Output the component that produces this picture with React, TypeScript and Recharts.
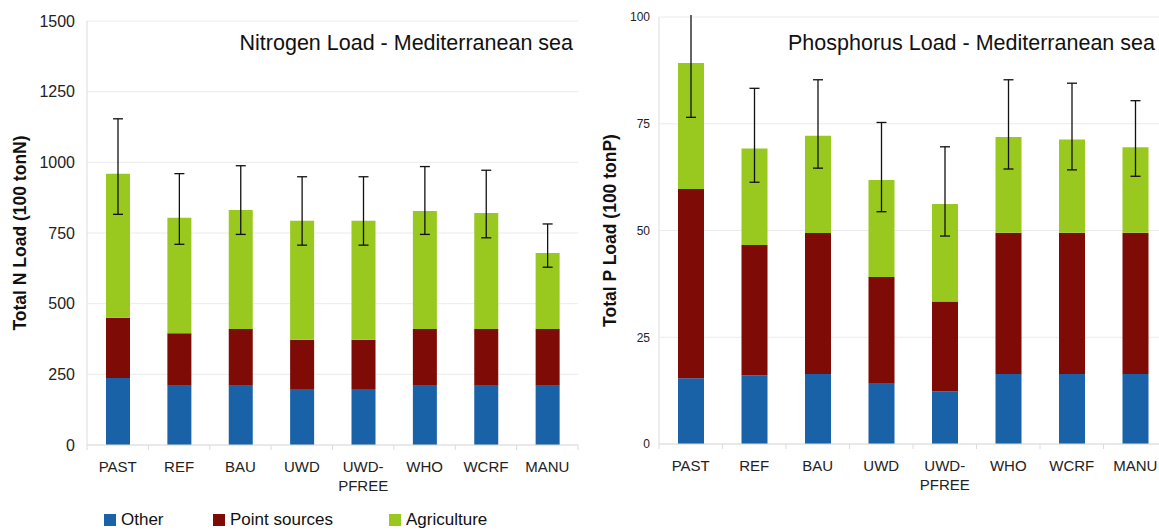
import { Bar, BarChart, CartesianGrid, ErrorBar, Legend, XAxis, YAxis } from "recharts";

const CATEGORIES = ["PAST", "REF", "BAU", "UWD", "UWD-PFREE", "WHO", "WCRF", "MANU"];

// nitrogen, 100 tonN
const N_OTHER = [237, 210, 210, 198, 198, 210, 210, 210];
const N_POINT = [213, 185, 200, 174, 174, 200, 200, 200];
const N_AGRI = [510, 409, 421, 421, 421, 418, 411, 269];
const N_ERR_LOW = [816, 710, 745, 707, 707, 745, 733, 629];
const N_ERR_HIGH = [1154, 960, 988, 949, 949, 985, 972, 782];
const N_TICKS = [0, 250, 500, 750, 1000, 1250, 1500];

// phosphorus, 100 tonP
const P_OTHER = [15.4, 16.1, 16.4, 14.1, 12.3, 16.4, 16.4, 16.4];
const P_POINT = [44.3, 30.5, 33.0, 25.0, 21.1, 33.1, 33.1, 33.1];
const P_AGRI = [29.5, 22.6, 22.8, 22.7, 22.8, 22.4, 21.8, 20.0];
const P_ERR_LOW = [76.5, 61.3, 64.6, 54.4, 48.7, 64.4, 64.2, 62.7];
const P_ERR_HIGH = [103, 83.3, 85.3, 75.3, 69.6, 85.3, 84.5, 80.4];
const P_TICKS = [0, 25, 50, 75, 100];

const SERIES = [
  { key: "other", name: "Other", color: "#1962a8" },
  { key: "point", name: "Point sources", color: "#7e0b06" },
  { key: "agri", name: "Agriculture", color: "#99c81f" },
];

const GRID = "#ebebeb";
const AXIS = "#dcdcdc";
const FONT = "'Liberation Sans', Arial, sans-serif";

function buildRows(other: number[], point: number[], agri: number[], lo: number[], hi: number[]) {
  return CATEGORIES.map((name, i) => {
    const total = other[i] + point[i] + agri[i];
    return { name, other: other[i], point: point[i], agri: agri[i], err: [total - lo[i], hi[i] - total] };
  });
}

const nRows = buildRows(N_OTHER, N_POINT, N_AGRI, N_ERR_LOW, N_ERR_HIGH);
const pRows = buildRows(P_OTHER, P_POINT, P_AGRI, P_ERR_LOW, P_ERR_HIGH);

function CategoryTick(props: any) {
  const { x, y, payload, index, visibleTicksCount, baseline } = props;
  const half = payload.offset || 0;
  const lines = String(payload.value).split(/(?<=-)/);
  return (
    <g>
      <line x1={x - half} x2={x - half} y1={y} y2={y + 5} stroke={AXIS} />
      {index === visibleTicksCount - 1 && <line x1={x + half} x2={x + half} y1={y} y2={y + 5} stroke={AXIS} />}
      {lines.map((l, i) => (
        <text key={i} x={x} y={y + baseline + i * 19} textAnchor="middle" fontSize={15} fill="#222" fontFamily={FONT}>
          {l}
        </text>
      ))}
    </g>
  );
}

function YLabel({ viewBox, value }: any) {
  const cx = 20;
  const cy = viewBox.y + viewBox.height / 2;
  return (
    <text
      x={cx}
      y={cy}
      transform={`rotate(-90 ${cx} ${cy})`}
      textAnchor="middle"
      dominantBaseline="central"
      fontSize={17.5}
      fontWeight="bold"
      fill="#111"
      fontFamily={FONT}
    >
      {value}
    </text>
  );
}

// fixed order: the legend payload comes back reversed for stacks
function LegendBox() {
  const widths = [109, 176, 120];
  return (
    <div style={{ display: "flex", height: 22, alignItems: "center", paddingLeft: 104, fontFamily: FONT, fontSize: 17, color: "#111" }}>
      {SERIES.map((s, i) => (
        <div key={s.key} style={{ display: "flex", alignItems: "center", width: widths[i] }}>
          <span style={{ width: 12, height: 12, background: s.color, marginRight: 5, display: "inline-block" }} />
          <span>{s.name}</span>
        </div>
      ))}
    </div>
  );
}

function Panel(props: {
  rows: any[];
  ticks: number[];
  title: string;
  titleX: number;
  titleAnchor: "start" | "end";
  yLabel: string;
  yWidth: number;
  yFont: number;
  yMargin: number;
  top: number;
  right: number;
  barSize: number;
  baseline: number;
  legend: boolean;
  xHeight: number;
}) {
  const max = props.ticks[props.ticks.length - 1];
  return (
    <BarChart
      width={590}
      height={531}
      data={props.rows}
      margin={{ top: props.top, right: props.right, left: 0, bottom: 0 }}
      barSize={props.barSize}
    >
      <CartesianGrid stroke={GRID} vertical={false} />
      <XAxis
        dataKey="name"
        height={props.xHeight}
        tickLine={false}
        tickSize={0}
        tickMargin={0}
        axisLine={{ stroke: AXIS }}
        interval={0}
        tick={<CategoryTick baseline={props.baseline} />}
      />
      <YAxis
        width={props.yWidth}
        domain={[0, max]}
        ticks={props.ticks}
        allowDataOverflow
        tickLine={false}
        tickSize={0}
        tickMargin={props.yMargin}
        axisLine={{ stroke: AXIS }}
        tick={{ fontSize: props.yFont, fill: "#222", fontFamily: FONT }}
        label={{ value: props.yLabel, content: <YLabel value={props.yLabel} /> }}
      />
      {props.legend && <Legend verticalAlign="bottom" content={<LegendBox />} wrapperStyle={{ left: 0, width: 590 }} />}
      {SERIES.map((s) => (
        <Bar key={s.key} dataKey={s.key} name={s.name} stackId="a" fill={s.color} isAnimationActive={false}>
          {s.key === "agri" && (
            <ErrorBar dataKey="err" width={5} stroke="#111" strokeWidth={1.3} direction="y" isAnimationActive={false} />
          )}
        </Bar>
      ))}
      <text x={props.titleX} y={50} textAnchor={props.titleAnchor} fontSize={21.5} fill="#111" fontFamily={FONT}>
        {props.title}
      </text>
    </BarChart>
  );
}

export default function App() {
  return (
    <div style={{ position: "fixed", left: 0, top: 0, width: 1159, height: 531, overflow: "hidden", background: "#fff" }}>
      <div style={{ position: "absolute", left: 0, top: 0 }}>
        <Panel
          rows={nRows}
          ticks={N_TICKS}
          title="Nitrogen Load - Mediterranean sea"
          titleX={573}
          titleAnchor="end"
          yLabel="Total N Load (100 tonN)"
          yWidth={87}
          yFont={16}
          yMargin={12}
          top={21}
          right={12}
          barSize={24}
          baseline={27}
          legend
          xHeight={64}
        />
      </div>
      <div style={{ position: "absolute", left: 590, top: 0, width: 569, height: 531, overflow: "hidden" }}>
        <Panel
          rows={pRows}
          ticks={P_TICKS}
          title="Phosphorus Load - Mediterranean sea"
          titleX={198}
          titleAnchor="start"
          yLabel="Total P Load (100 tonP)"
          yWidth={69}
          yFont={12}
          yMargin={9}
          top={17}
          right={13}
          barSize={26}
          baseline={27}
          legend={false}
          xHeight={87}
        />
        {/* the source crops error bars that run past the top of the axis */}
        <div style={{ position: "absolute", left: 70, top: 0, width: 500, height: 15, background: "#fff", pointerEvents: "none" }} />
      </div>
    </div>
  );
}
